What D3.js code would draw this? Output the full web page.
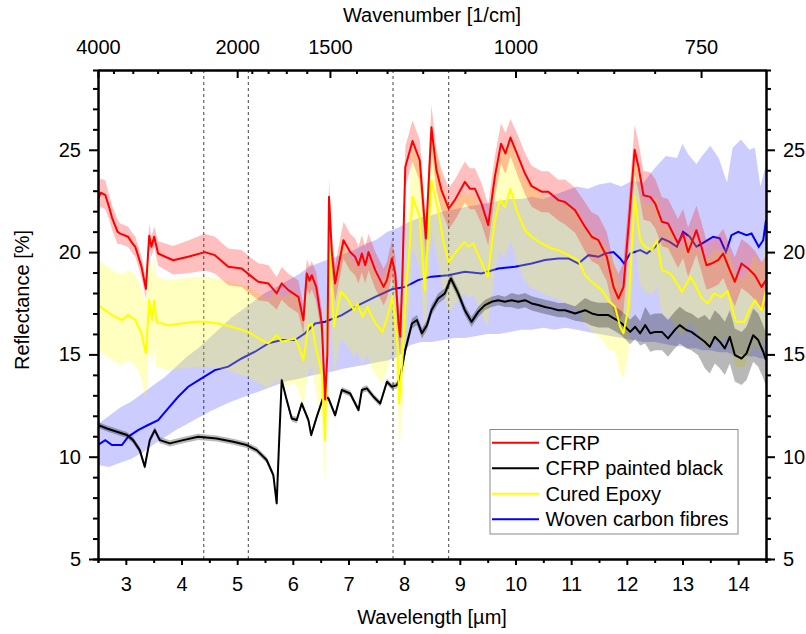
<!DOCTYPE html>
<html><head><meta charset="utf-8">
<script src="https://cdn.jsdelivr.net/npm/d3@7"></script>
<style>
body{margin:0;background:#fff}
svg{display:block}
text{font-family:Arial,"Liberation Sans",sans-serif;fill:#000}
</style>
</head><body>
<svg id="chart" width="806" height="634"></svg>
<script>
// ---------- DATA ----------
const cfrpX = [2.5,2.55,2.63,2.7,2.75,2.85,2.9,3.04,3.1,3.17,3.28,3.36,3.42,3.46,3.51,3.58,3.85,4.12,4.42,4.6,4.84,5.08,5.26,5.38,5.56,5.71,5.8,5.92,6.1,6.19,6.25,6.3,6.34,6.42,6.52,6.58,6.62,6.65,6.7,6.76,6.91,7.03,7.12,7.18,7.24,7.3,7.36,7.48,7.63,7.69,7.78,7.84,7.9,7.93,7.97,8.02,8.15,8.28,8.39,8.49,8.58,8.67,8.8,8.91,9.09,9.18,9.27,9.39,9.51,9.63,9.74,9.82,9.91,10.05,10.17,10.29,10.47,10.59,10.77,10.89,11.07,11.25,11.37,11.49,11.64,11.76,11.85,11.94,12.03,12.14,12.21,12.3,12.42,12.51,12.63,12.74,12.83,12.92,13.01,13.1,13.16,13.25,13.34,13.43,13.52,13.64,13.73,13.85,13.94,14.06,14.18,14.3,14.42,14.5];
const cfrpY = [22.6,22.9,22.8,22.2,21.7,21.0,20.9,20.75,20.5,20.26,19.3,18.2,20.8,20.26,20.75,19.93,19.6,19.77,20.0,19.85,19.28,19.2,18.8,18.55,18.47,17.98,18.47,18.14,17.81,16.67,18.96,18.6,18.87,18.3,16.5,12.8,15.0,22.7,20.0,18.47,20.58,20.0,19.77,19.36,19.93,19.36,20.0,19.12,18.3,18.63,19.69,18.96,16.5,15.86,19.0,24.16,25.43,24.49,20.67,26.1,24.0,23.03,22.13,22.54,23.43,23.1,23.1,22.37,21.32,23.7,25.3,24.82,25.6,24.66,23.84,23.22,22.95,22.95,22.54,22.45,22.05,21.23,20.75,20.58,19.77,18.3,17.73,18.3,21.23,25.0,24.16,22.78,22.7,22.37,21.48,21.4,20.91,20.42,20.91,20.0,20.42,21.07,20.26,19.36,19.44,19.61,19.93,19.12,18.55,19.44,19.2,18.87,18.3,18.63];
const cfrpSpread = [.7,.7,.7,.6,.6,.6,.5,.5,.5,.5,.5,.5,.6,.5,.5,.6,.7,.8,.9,.9,.9,.9,.9,.9,.9,.8,.8,.8,.8,.7,.7,.7,.7,.7,.7,.7,.8,.9,.9,.9,.9,.9,.9,.9,.9,.9,.9,.9,.9,.9,.9,.9,.9,.9,1,1,1,1,1,1.1,1,1,1,1,1,1,1,1,1,1,1,1,.9,1,1,1,1,1,1,1.1,1.1,1.2,1.2,1.2,1.2,1.2,1.2,1.2,1.2,1.2,1.2,1.2,1.2,1.2,1.2,1.2,1.2,1.2,1.2,1.2,1.2,1.2,1.2,1.2,1.2,1.2,1.2,1.2,1.2,1.2,1.2,1.2,1.2,1.2];

const blackX = [2.5,2.66,2.84,3.02,3.13,3.25,3.34,3.43,3.52,3.61,3.79,4.03,4.3,4.63,4.93,5.17,5.35,5.53,5.65,5.71,5.75,5.8,5.89,5.98,6.07,6.16,6.28,6.33,6.43,6.55,6.64,6.76,6.88,7.03,7.18,7.24,7.33,7.45,7.57,7.69,7.78,7.87,7.93,8.02,8.14,8.23,8.32,8.41,8.49,8.61,8.73,8.84,8.97,9.09,9.21,9.33,9.45,9.57,9.69,9.81,9.93,10.05,10.17,10.29,10.41,10.53,10.65,10.77,10.89,11.07,11.25,11.37,11.49,11.67,11.82,11.91,12.0,12.06,12.15,12.24,12.33,12.42,12.51,12.63,12.74,12.86,12.95,13.07,13.16,13.28,13.4,13.49,13.58,13.67,13.76,13.85,13.94,14.06,14.15,14.27,14.36,14.45,14.5];
const blackY = [11.55,11.38,11.22,11.06,10.81,10.32,9.51,10.81,11.3,10.81,10.65,10.81,10.97,10.89,10.73,10.57,10.32,9.84,9.1,7.72,10.5,13.74,12.77,11.87,11.79,12.6,11.79,11.06,11.95,12.93,12.85,12.03,13.26,13.09,12.28,13.26,13.34,12.93,12.6,13.66,13.42,13.5,13.9,15.21,16.51,16.68,16.03,16.43,17.16,17.73,17.98,18.71,17.98,17.16,16.59,17.08,17.41,17.57,17.65,17.57,17.65,17.57,17.65,17.49,17.41,17.32,17.25,17.16,17.16,17.0,17.16,17.0,16.92,16.92,16.68,16.51,16.27,16.1,16.35,16.03,16.43,16.03,16.1,16.1,15.78,16.19,16.43,16.19,16.1,15.86,15.62,15.37,15.86,15.62,15.29,15.86,14.97,14.8,15.05,15.94,15.7,15.13,14.72];
const blackSpread = [.15,.15,.15,.15,.15,.15,.15,.15,.15,.15,.15,.15,.15,.15,.15,.15,.15,.15,.15,.15,.15,.15,.15,.15,.15,.15,.15,.15,.15,.15,.15,.15,.15,.15,.15,.15,.15,.15,.15,.15,.15,.15,.15,.25,.25,.25,.25,.25,.25,.25,.25,.25,.25,.25,.25,.25,.25,.25,.25,.25,.35,.35,.35,.35,.35,.35,.35,.35,.35,.35,.6,.6,.6,.6,.6,.6,.6,.6,.6,.6,.9,.9,.9,.9,.9,.9,.9,.9,.9,.9,1.3,1.3,1.3,1.3,1.3,1.3,1.3,1.3,1.3,1.3,1.3,1.3,1.3];

const epoxyX = [2.5,2.63,2.8,2.93,3.04,3.17,3.28,3.36,3.42,3.47,3.51,3.55,3.76,4.0,4.24,4.42,4.66,4.9,5.2,5.44,5.56,5.71,5.8,5.92,6.04,6.1,6.19,6.28,6.34,6.4,6.52,6.58,6.65,6.74,6.86,6.98,7.1,7.16,7.25,7.34,7.41,7.49,7.61,7.7,7.79,7.88,7.91,7.97,8.04,8.09,8.15,8.28,8.37,8.49,8.61,8.7,8.8,8.91,9.08,9.15,9.24,9.36,9.5,9.63,9.72,9.81,9.91,10.02,10.17,10.29,10.47,10.65,10.77,10.89,11.01,11.13,11.25,11.37,11.55,11.67,11.79,11.88,11.94,12.03,12.14,12.24,12.33,12.45,12.54,12.63,12.78,12.9,12.99,13.14,13.23,13.35,13.45,13.57,13.69,13.81,13.96,14.11,14.2,14.3,14.42,14.5];
const epoxyY = [17.41,17.16,16.84,16.68,16.92,16.68,16.03,15.05,17.65,16.68,17.65,16.59,16.43,16.51,16.59,16.59,16.51,16.35,16.1,15.7,15.54,15.94,15.62,15.7,15.78,15.45,14.72,16.43,16.51,15.54,14.07,10.81,20.3,16.35,18.06,17.73,17.16,17.49,16.84,17.32,16.9,16.51,16.1,16.84,17.8,15.54,12.6,14.9,18.5,19.93,22.7,21.72,18.14,23.5,22.05,20.58,19.52,19.93,20.5,20.26,20.42,19.69,18.8,21.56,22.54,22.2,23.1,22.05,21.07,20.75,20.42,20.18,20.1,19.93,19.77,19.6,18.87,18.55,18.14,17.65,17.32,16.35,16.03,17.32,22.7,20.58,20.26,20.1,20.58,19.12,18.96,18.47,18.06,18.8,18.39,17.73,17.49,17.98,17.81,18.1,16.59,16.59,17.16,17.65,17.16,18.14];
const epoxySpread = [2.2,2.2,2.2,2.2,2.2,2.2,2.2,2.4,2.2,2.2,2.2,2.2,2.2,2.2,2.2,2.2,2.2,2.2,2.2,2.2,2.2,2.2,2.2,2.2,2.2,2.2,2.2,2.2,2.2,2.2,2.3,2.3,2.3,2.3,2.3,2.3,2.3,2.3,2.3,2.3,2.5,2.5,2.5,2.5,2.5,2.5,2.5,2.5,2.5,2.5,2.5,2.5,2.5,2.5,2.5,2.5,2.5,2.5,2.5,2.5,2.5,2.5,2.5,2.5,2.5,2.5,2.5,2.5,2.5,2.5,2.4,2.4,2.4,2.4,2.4,2.4,2.4,2.4,2.4,2.4,2.2,2.2,2.2,2.2,2.2,2.2,2.2,2.2,2.2,2.2,2.2,2.2,2.2,2.2,2.2,2.2,2.2,2.2,2.2,2.2,2.2,2.2,2.2,2.2,2.2,2.2];

const wovenX = [2.5,2.63,2.75,2.93,3.04,3.22,3.4,3.58,3.76,3.94,4.12,4.36,4.6,4.84,5.08,5.32,5.56,5.8,6.04,6.22,6.4,6.58,6.88,7.18,7.48,7.78,8.02,8.25,8.49,8.79,9.09,9.39,9.69,9.99,10.29,10.53,10.77,10.95,11.13,11.31,11.49,11.61,11.76,11.88,11.95,12.06,12.24,12.36,12.51,12.63,12.77,12.9,13.01,13.13,13.25,13.4,13.55,13.67,13.78,13.88,14.0,14.15,14.24,14.37,14.45,14.5];
const wovenY = [10.57,10.81,10.57,10.57,10.97,11.3,11.55,11.79,12.36,12.93,13.42,13.83,14.23,14.4,14.8,15.13,15.54,15.7,15.7,16.03,16.51,16.6,16.92,17.41,17.81,18.18,18.3,18.63,18.8,18.87,19.04,18.96,19.2,19.28,19.44,19.61,19.69,19.69,19.44,19.85,19.77,19.93,20.0,19.69,19.44,19.93,20.1,19.93,20.26,20.67,20.5,20.26,20.99,20.75,20.26,20.5,20.75,20.67,20.0,20.83,20.99,20.83,20.91,20.26,20.58,21.56];
const wovenBandX = [2.5,2.7,2.9,3.1,3.3,3.5,3.7,3.9,4.1,4.3,4.5,4.7,4.9,5.1,5.3,5.5,5.7,5.9,6.1,6.3,6.5,6.7,6.9,7.1,7.3,7.5,7.7,7.9,8.1,8.3,8.5,8.7,8.9,9.1,9.3,9.5,9.7,9.9,10.1,10.3,10.5,10.7,10.9,11.1,11.3,11.5,11.7,11.9,12.1,12.3,12.5,12.7,12.9,13.0,13.1,13.25,13.35,13.5,13.65,13.8,13.9,14.05,14.2,14.3,14.4,14.5];
const wovenBandHi = [11.6,12.0,12.4,12.7,13.1,13.5,13.9,14.4,14.9,15.3,15.8,16.3,16.8,17.2,17.6,18.0,18.3,18.6,18.9,19.3,19.5,19.7,19.9,20.1,20.4,20.6,21.0,21.2,21.5,21.7,21.8,22.0,22.1,22.2,22.3,22.4,22.5,22.6,22.6,22.7,22.6,22.8,23.0,23.2,23.1,23.3,23.4,23.2,23.5,23.4,24.1,24.7,24.6,25.3,24.8,24.3,24.7,25.2,24.6,23.4,25.1,25.5,25.0,25.1,23.2,24.3];
const wovenBandLo = [9.6,9.5,9.7,9.9,10.2,10.6,10.95,11.3,11.6,11.9,12.2,12.45,12.7,12.9,13.1,13.3,13.5,13.7,13.8,13.95,14.05,14.15,14.3,14.4,14.5,14.6,14.7,14.9,15.45,15.6,15.6,15.7,15.8,15.8,15.9,16.0,16.0,16.1,16.2,16.2,16.3,16.2,16.3,16.2,16.1,16.0,15.9,15.8,15.7,15.6,15.6,15.5,15.4,15.4,15.3,15.3,15.2,15.2,15.1,15.1,15.0,15.0,14.9,14.9,14.8,14.8];

const seriesNames = ["CFRP","CFRP painted black","Cured Epoxy","Woven carbon fibres"];
const seriesColors = ["#ff0000","#000000","#ffff00","#0000ff"];

const xMajorTicks = [3,4,5,6,7,8,9,10,11,12,13,14];
const xMinorTicks = [2.5,3.5,4.5,5.5,6.5,7.5,8.5,9.5,10.5,11.5,12.5,13.5,14.5];
const yMajorTicks = [5,10,15,20,25];
const yMinorTicks = [6,7,8,9,11,12,13,14,16,17,18,19,21,22,23,24,26,27,28];
const wnMajorTicks = [4000,2000,1500,1000,750];
const wnMinorTicks = [3600,3200,2800,2400,1900,1800,1700,1600,1400,1300,1200,1100,950,900,850,800];
const markerWavelengths = [4.4,5.2,7.8,8.8];

// ---------- LAYOUT ----------
const L = 98, R = 766, T = 70, B = 559;
const svg = d3.select("#chart");
const x = d3.scaleLinear().domain([2.5,14.5]).range([L,R]);
const y = d3.scaleLinear().domain([5,28.9]).range([B,T]);

svg.append("defs").append("clipPath").attr("id","plotclip")
  .append("rect").attr("x",L).attr("y",T).attr("width",R-L).attr("height",B-T);

const plot = svg.append("g").attr("clip-path","url(#plotclip)");

// dashed marker lines
plot.selectAll("line.marker").data(markerWavelengths).enter().append("line")
  .attr("x1",d=>x(d)).attr("x2",d=>x(d)).attr("y1",T).attr("y2",B)
  .attr("stroke","#444").attr("stroke-width",1).attr("stroke-dasharray","3,3");

function zip(xs, ys, ss){ return xs.map((v,i)=>({x:v,y:ys[i],s:ss?ss[i]:0})); }
const bandArea = d3.area().x(d=>x(d.x)).y0(d=>y(d.y-d.s)).y1(d=>y(d.y+d.s));
const lineGen = d3.line().x(d=>x(d.x)).y(d=>y(d.y));

const cfrp = zip(cfrpX,cfrpY,cfrpSpread);
const black = zip(blackX,blackY,blackSpread);
const epoxy = zip(epoxyX,epoxyY,epoxySpread);
const woven = zip(wovenX,wovenY);
const wovenBand = wovenBandX.map((v,i)=>({x:v,lo:wovenBandLo[i],hi:wovenBandHi[i]}));

// woven band + line first
plot.append("path").datum(wovenBand)
  .attr("d", d3.area().x(d=>x(d.x)).y0(d=>y(d.lo)).y1(d=>y(d.hi)))
  .attr("fill","rgba(0,0,255,0.2)");
plot.append("path").datum(woven).attr("d",lineGen)
  .attr("fill","none").attr("stroke",seriesColors[3]).attr("stroke-width",2);

// other bands
plot.append("path").datum(epoxy).attr("d",bandArea).attr("fill","rgba(255,255,0,0.25)");
plot.append("path").datum(cfrp).attr("d",bandArea).attr("fill","rgba(255,0,0,0.25)");
plot.append("path").datum(black).attr("d",bandArea).attr("fill","rgba(0,0,0,0.28)");

// lines
plot.append("path").datum(black).attr("d",lineGen)
  .attr("fill","none").attr("stroke",seriesColors[1]).attr("stroke-width",2).attr("stroke-linejoin","round");
plot.append("path").datum(epoxy).attr("d",lineGen)
  .attr("fill","none").attr("stroke",seriesColors[2]).attr("stroke-width",2).attr("stroke-linejoin","round");
plot.append("path").datum(cfrp).attr("d",lineGen)
  .attr("fill","none").attr("stroke",seriesColors[0]).attr("stroke-width",2).attr("stroke-linejoin","round");

// ---------- AXES ----------
const FS = "20px";
function styleAxis(g){
  g.select(".domain").attr("stroke","#000").attr("stroke-width",2);
  g.selectAll(".tick line").attr("stroke","#000").attr("stroke-width",2);
  g.selectAll("text").style("font-size",FS).attr("fill","#000").style("font-family","Arial, 'Liberation Sans', sans-serif");
}
// bottom
svg.append("g").attr("transform",`translate(0,${B})`)
  .call(d3.axisBottom(x).tickValues(xMinorTicks).tickSize(4).tickFormat(""))
  .call(styleAxis);
svg.append("g").attr("transform",`translate(0,${B})`)
  .call(d3.axisBottom(x).tickValues(xMajorTicks).tickSizeInner(6).tickSizeOuter(0).tickPadding(12).tickFormat(d3.format("d")))
  .call(styleAxis);
// left
svg.append("g").attr("transform",`translate(${L},0)`)
  .call(d3.axisLeft(y).tickValues(yMinorTicks).tickSize(5).tickFormat(""))
  .call(styleAxis);
svg.append("g").attr("transform",`translate(${L},0)`)
  .call(d3.axisLeft(y).tickValues(yMajorTicks).tickSizeInner(9).tickSizeOuter(0).tickPadding(8).tickFormat(d3.format("d")))
  .call(styleAxis);
// right
svg.append("g").attr("transform",`translate(${R},0)`)
  .call(d3.axisRight(y).tickValues(yMinorTicks).tickSize(5).tickFormat(""))
  .call(styleAxis);
svg.append("g").attr("transform",`translate(${R},0)`)
  .call(d3.axisRight(y).tickValues(yMajorTicks).tickSizeInner(9).tickSizeOuter(0).tickPadding(8).tickFormat(d3.format("d")))
  .call(styleAxis);
// top (wavenumber, ticks inward)
svg.append("g").attr("transform",`translate(0,${T})`)
  .call(d3.axisTop(x).tickValues(wnMinorTicks.map(w=>1e4/w)).tickSizeInner(-4).tickSizeOuter(0).tickFormat(""))
  .call(styleAxis);
svg.append("g").attr("transform",`translate(0,${T})`)
  .call(d3.axisTop(x).tickValues(wnMajorTicks.map(w=>1e4/w)).tickSizeInner(-8).tickSizeOuter(0).tickPadding(16)
        .tickFormat(d=>String(Math.round(1e4/d))))
  .call(styleAxis);

// axis titles
svg.append("text").attr("x",(L+R)/2).attr("y",22).attr("text-anchor","middle").style("font-size",FS).text("Wavenumber [1/cm]");
svg.append("text").attr("x",(L+R)/2).attr("y",624).attr("text-anchor","middle").style("font-size",FS).text("Wavelength [µm]");
svg.append("text").attr("transform","translate(29,300) rotate(-90)").attr("text-anchor","middle").style("font-size",FS).text("Reflectance [%]");

// ---------- LEGEND ----------
const lg = svg.append("g");
lg.append("rect").attr("x",490).attr("y",429.5).attr("width",248).attr("height",104.5)
  .attr("fill","#fff").attr("stroke","#8a8a8a").attr("stroke-width",1);
const legendRowY = d3.scalePoint().domain(seriesNames).range([442.7,519.3]);
seriesNames.forEach((n,i)=>{
  const yy = legendRowY(n);
  lg.append("line").attr("x1",492).attr("x2",539).attr("y1",yy).attr("y2",yy)
    .attr("stroke",seriesColors[i]).attr("stroke-width",2);
  lg.append("text").attr("x",545.5).attr("y",yy+7).style("font-size",FS).text(n);
});
</script>
</body></html>
